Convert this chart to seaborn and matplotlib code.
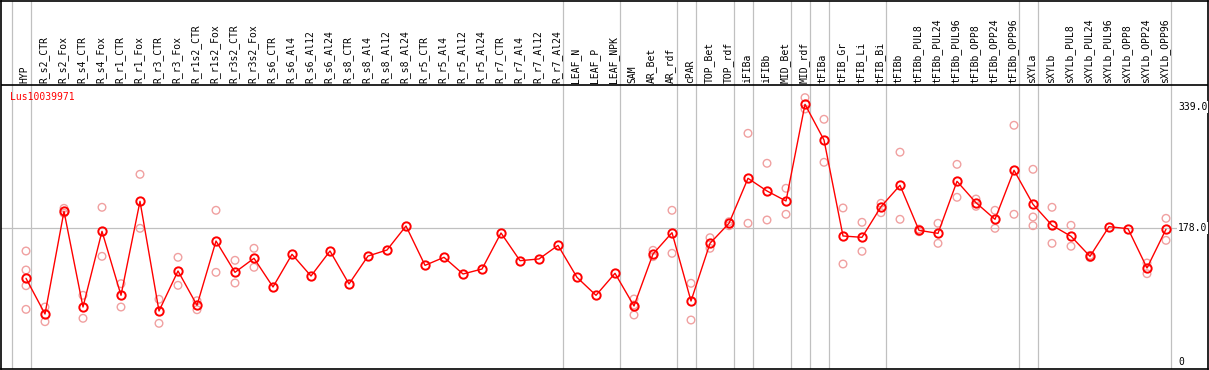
import matplotlib
matplotlib.use("Agg")
import matplotlib.pyplot as plt
import seaborn as sns
import pandas as pd

title = "Lus10039971"

labels = ["HYP", "R_s2_CTR", "R_s2_Fox", "R_s4_CTR", "R_s4_Fox", "R_r1_CTR", "R_r1_Fox",
          "R_r3_CTR", "R_r3_Fox", "R_r1s2_CTR", "R_r1s2_Fox", "R_r3s2_CTR", "R_r3s2_Fox",
          "R_s6_CTR", "R_s6_Al4", "R_s6_Al12", "R_s6_Al24", "R_s8_CTR", "R_s8_Al4",
          "R_s8_Al12", "R_s8_Al24", "R_r5_CTR", "R_r5_Al4", "R_r5_Al12", "R_r5_Al24",
          "R_r7_CTR", "R_r7_Al4", "R_r7_Al12", "R_r7_Al24", "LEAF_N", "LEAF_P", "LEAF_NPK",
          "SAM", "AR_Bet", "AR_rdf", "cPAR", "TOP_Bet", "TOP_rdf", "iFIBa", "iFIBb",
          "MID_Bet", "MID_rdf", "tFIBa", "tFIB_Gr", "tFIB_Li", "tFIB_Bi", "tFIBb",
          "tFIBb_PUL8", "tFIBb_PUL24", "tFIBb_PUL96", "tFIBb_OPP8", "tFIBb_OPP24",
          "tFIBb_OPP96", "sXYLa", "sXYLb", "sXYLb_PUL8", "sXYLb_PUL24", "sXYLb_PUL96",
          "sXYLb_OPP8", "sXYLb_OPP24", "sXYLb_OPP96"]

means = [111.4, 63.9, 200.6, 73.2, 174.0, 88.8, 214.0, 67.9, 121.2, 75.5, 161.1, 119.4, 138.1,
         99.9, 143.4, 114.5, 147.8, 103.9, 141.1, 149.1, 181.1, 128.7, 139.4, 117.2, 123.8,
         171.8, 134.9, 137.2, 155.3, 112.7, 88.8, 118.1,
         74.6, 143.8, 172.2, 81.2, 158.0, 184.7, 244.6, 227.7, 214.4, 343.1, 295.6,
         167.8, 166.0, 206.8, 235.3, 175.3, 171.3, 240.6, 212.1, 190.0, 255.3,
         210.0, 182.0, 167.4, 140.7, 180.2, 177.5, 125.2, 176.7]

replicates = [[147.8, 122.5, 101.6, 70.1], [73.2, 53.7], [204.6, 198.0], [88.8, 58.2],
              [206.0, 140.7], [104.3, 73.2], [249.9, 178.0], [83.5, 51.5], [139.4, 102.1],
              [81.6, 69.6], [202.0, 119.4], [135.4, 105.2], [151.4, 126.1],
              [], [], [], [], [], [], [], [], [], [], [], [], [], [], [], [], [], [], [],
              [83.9, 75.9, 62.6], [148.7, 140.3], [202.0, 144.7], [104.8, 55.9],
              [165.5, 151.4], [186.8, 181.5], [304.5, 184.7], [264.6, 189.1],
              [231.3, 196.7], [352.0, 336.9], [323.2, 265.9], [205.1, 130.5],
              [186.0, 147.4], [211.3, 198.8], [279.4, 190.0], [177.0, 173.5],
              [184.7, 158.0], [263.2, 219.3], [217.0, 207.3], [202.0, 178.0],
              [315.2, 196.7], [256.6, 193.1, 181.5], [206.0, 158.0], [182.0, 154.1],
              [142.0, 139.0], [], [], [131.8, 117.6], [191.3, 162.0]]

group_ends = [-1, 0, 28, 31, 34, 35, 37, 38, 40, 41, 42, 45, 52, 53, 60]
axis_ticks = [339.0, 178.0, 0]
axis_tick_labels = ["339.0", "178.0", "0"]
grid_value = 178.0

# ---- layout (pixel geometry) ----
W, H = 1209, 370
sns.set_style("white")
plt.rcParams["font.family"] = ["DejaVu Sans Mono", "DejaVu Sans"]

fig = plt.figure(figsize=(W / 100, H / 100), dpi=100)
L, R, T, B = 1.0, 1207.5, 0.8, 368.8
ax = fig.add_axes([L / W, 1 - B / H, (R - L) / W, (B - T) / H])
x0, dx = 26.0, 19.0          # pixel of first column, column spacing
y0, sy = 362.0, 0.751        # pixel of value 0, pixels per unit
ax.set_xlim((L - x0) / dx, (R - x0) / dx)
ax.set_ylim((y0 - B) / sy, (y0 - T) / sy)

def vpix(p):
    return (y0 - p) / sy

df_mean = pd.DataFrame({"x": range(len(labels)), "value": means})
rx, rv = [], []
for i, reps in enumerate(replicates):
    for v in reps:
        rx.append(i)
        rv.append(v)
df_rep = pd.DataFrame({"x": rx, "value": rv})

# grid / separators
for g in group_ends:
    ax.axvline(g + 0.26, color="#c0c0c0", lw=0.9, zorder=1)
ax.axhline(grid_value, color="#c0c0c0", lw=0.9, zorder=1)
ax.axhline(vpix(85.5), color="black", lw=1.2, zorder=3)

sns.scatterplot(data=df_rep, x="x", y="value", ax=ax, marker="o", s=30,
                facecolors="none", edgecolor="#f0a0a0", linewidth=1.0, zorder=4)
sns.lineplot(data=df_mean, x="x", y="value", ax=ax, color="red", lw=1.0,
             marker="o", markersize=6, markerfacecolor="none",
             markeredgecolor="red", markeredgewidth=1.4, zorder=5)

# column labels
for i, lab in enumerate(labels):
    ax.text(i - 0.06, vpix(83.5), lab, rotation=90, ha="center", va="bottom",
            fontsize=7, color="black", zorder=6)

ax.text((10 - x0) / dx, vpix(97.5), title, color="red", fontsize=7,
        ha="left", va="center", zorder=6)

for v, s in zip(axis_ticks, axis_tick_labels):
    ax.text((1178 - x0) / dx, v, s, fontsize=7, ha="left", va="center",
            color="black", zorder=6, clip_on=True,
            bbox=dict(boxstyle="square,pad=0.1", fc="white", ec="none"))

ax.set_xlabel("")
ax.set_ylabel("")
ax.set_xticks([])
ax.set_yticks([])
for sp in ax.spines.values():
    sp.set_visible(True)
    sp.set_color("black")
    sp.set_linewidth(1.2)
leg = ax.get_legend()
if leg is not None:
    leg.remove()

fig.savefig("out.png", dpi=100)
